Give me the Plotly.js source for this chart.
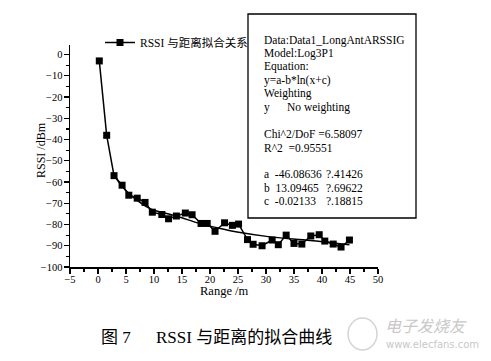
<!DOCTYPE html>
<html>
<head>
<meta charset="utf-8">
<script src="https://cdn.plot.ly/plotly-3.0.1.min.js"></script>
<style>
html,body{margin:0;padding:0;background:#fff;}
#chart{width:491px;height:361px;}
</style>
</head>
<body>
<div id="chart"></div>
<script>
// ---- data ----
const rangeM = [0.23, 1.55, 2.86, 4.3, 5.5, 7.0, 8.4, 9.7, 11.4, 12.6, 14.0, 15.6, 16.8, 18.4, 19.5, 20.9, 22.6, 24.0, 25.1, 26.7, 27.7, 29.3, 31.1, 32.2, 33.6, 35.0, 36.4, 38.0, 39.5, 40.5, 42.0, 43.4, 44.9];
const rssi   = [-3, -38, -57, -61.5, -66.2, -67.6, -69.6, -74.2, -75.3, -77.3, -76, -74.6, -75.4, -79.5, -79.5, -83.2, -79.2, -80.4, -79.8, -87.1, -89.3, -90, -87.3, -89.5, -85, -88.9, -89.2, -85.4, -84.8, -87.8, -89.2, -90.6, -87.3];
const fitX   = [2.7, 4.3, 6.0, 9.3, 14.0, 18.2, 21.2, 25.4, 30.4, 37.9, 43.2, 44.9];
const fitY   = [-56, -62, -66.5, -72.5, -76, -79.6, -81.5, -83.8, -85.7, -87.5, -89, -89.5];
const seriesName = "RSSI 与距离拟合关系";
const xTitle = "Range /m";
const yTitle = "RSSI /dBm";
const fitLines = [
  ["Data:Data1_LongAntARSSIG", ""],
  ["Model:Log3P1", ""],
  ["Equation:", ""],
  ["y=a-b*ln(x+c)", ""],
  ["Weighting", ""],
  ["y\u00a0\u00a0\u00a0\u00a0\u00a0\u00a0No weighting", ""],
  ["", ""],
  ["Chi^2/DoF\u00a0=6.58097", ""],
  ["R^2\u00a0\u00a0=0.95551", ""],
  ["", ""],
  ["a\u00a0\u00a0-46.08636", "?.41426"],
  ["b\u00a0\u00a013.09465", "?.69622"],
  ["c\u00a0\u00a0-0.02133", "?.18815"]
];
const captionFig = "图 7";
const captionText = "RSSI 与距离的拟合曲线";
const watermark1 = "电子发烧友";
const watermark2 = "www.elecfans.com";

// ---- layout helpers (pixel -> paper) ----
const M = {l:70, r:113, t:45, b:94};
const W = 491, H = 361;
const PW = W - M.l - M.r, PH = H - M.t - M.b;
const px = x => (x - M.l) / PW;
const py = y => (H - M.b - y) / PH;

const serif = "Liberation Serif, Noto Sans CJK SC, serif";

const traces = [
  {
    x: rangeM, y: rssi, type: "scatter", mode: "lines+markers",
    name: seriesName,
    line: {color: "#000", width: 1.5},
    marker: {symbol: "square", size: 7, color: "#000"},
    showlegend: true
  },
  {
    x: fitX, y: fitY, type: "scatter", mode: "lines",
    line: {color: "#000", width: 1.5, shape: "spline", smoothing: 1},
    showlegend: false, hoverinfo: "skip"
  }
];

const annotations = [];
fitLines.forEach((row, i) => {
  const yc = 40 + i * 13.45;
  if (row[0]) annotations.push({xref:"paper", yref:"paper", x:px(262), y:py(yc), xanchor:"left", yanchor:"middle",
    text: row[0], showarrow:false, font:{family:serif, size:11.5, color:"#000"}});
  if (row[1]) annotations.push({xref:"paper", yref:"paper", x:px(324), y:py(yc), xanchor:"left", yanchor:"middle",
    text: row[1], showarrow:false, font:{family:serif, size:11.5, color:"#000"}});
});
annotations.push({xref:"paper", yref:"paper", x:px(41), y:py(150), textangle:-90, xanchor:"center", yanchor:"middle",
  text:yTitle, showarrow:false, font:{family:serif, size:12, color:"#000"}});
annotations.push({xref:"paper", yref:"paper", x:px(224), y:py(291), xanchor:"center", yanchor:"middle",
  text:xTitle, showarrow:false, font:{family:serif, size:12.5, color:"#000"}});
annotations.push({xref:"paper", yref:"paper", x:px(99), y:py(337), xanchor:"left", yanchor:"middle",
  text:captionFig, showarrow:false, font:{family:serif, size:17, color:"#000"}});
annotations.push({xref:"paper", yref:"paper", x:px(154), y:py(337), xanchor:"left", yanchor:"middle",
  text:captionText, showarrow:false, font:{family:serif, size:17, color:"#000"}});
annotations.push({xref:"paper", yref:"paper", x:px(383), y:py(326), xanchor:"left", yanchor:"middle",
  text:"<i>"+watermark1+"</i>", showarrow:false, font:{family:serif, size:16, color:"#c8c8c8"}});
annotations.push({xref:"paper", yref:"paper", x:px(384), y:py(344), xanchor:"left", yanchor:"middle",
  text:watermark2, showarrow:false, font:{family:"DejaVu Sans, sans-serif", size:10, color:"#c8c8c8"}});

const layout = {
  width: W, height: H,
  margin: M,
  paper_bgcolor: "#fff", plot_bgcolor: "#fff",
  font: {family: serif, color: "#000"},
  xaxis: {
    range: [-5, 50], tick0: 0, dtick: 5, showgrid: false, zeroline: false,
    showline: true, linecolor: "#000", linewidth: 1.5,
    ticks: "outside", ticklen: 5, tickwidth: 1.3, tickcolor: "#000",
    ticklabelstandoff: -3,
    minor: {ticks: "outside", ticklen: 3, tickwidth: 1.2, tickcolor: "#000", dtick: 2.5, showgrid: false},
    tickfont: {family: serif, size: 10.5, color: "#000"}
  },
  yaxis: {
    range: [-100, 4.5], tick0: 0, dtick: 10, showgrid: false, zeroline: false,
    showline: true, linecolor: "#000", linewidth: 1.5,
    ticks: "outside", ticklen: 5, tickwidth: 1.3, tickcolor: "#000",
    ticklabelstandoff: -1,
    minor: {ticks: "outside", ticklen: 3, tickwidth: 1.2, tickcolor: "#000", dtick: 5, showgrid: false},
    tickfont: {family: serif, size: 10.5, color: "#000"}
  },
  showlegend: true,
  legend: {
    x: px(100), y: py(42.5), xanchor: "left", yanchor: "middle",
    bgcolor: "rgba(0,0,0,0)", borderwidth: 0,
    font: {family: serif, size: 11.5, color: "#000"},
    itemwidth: 30
  },
  shapes: [
    {type: "rect", xref: "paper", yref: "paper", x0: px(248), x1: px(416), y0: py(218), y1: py(14),
     line: {color: "#000", width: 1.3}, fillcolor: "#fff", layer: "above"},
    {type: "circle", xref: "paper", yref: "paper", x0: px(348), x1: px(377), y0: py(350), y1: py(318),
     line: {color: "#d4d4d4", width: 1.5}, fillcolor: "rgba(0,0,0,0)", layer: "above"}
  ],
  annotations: annotations
};

Plotly.newPlot("chart", traces, layout, {displayModeBar: false, staticPlot: true});
</script>
</body>
</html>
